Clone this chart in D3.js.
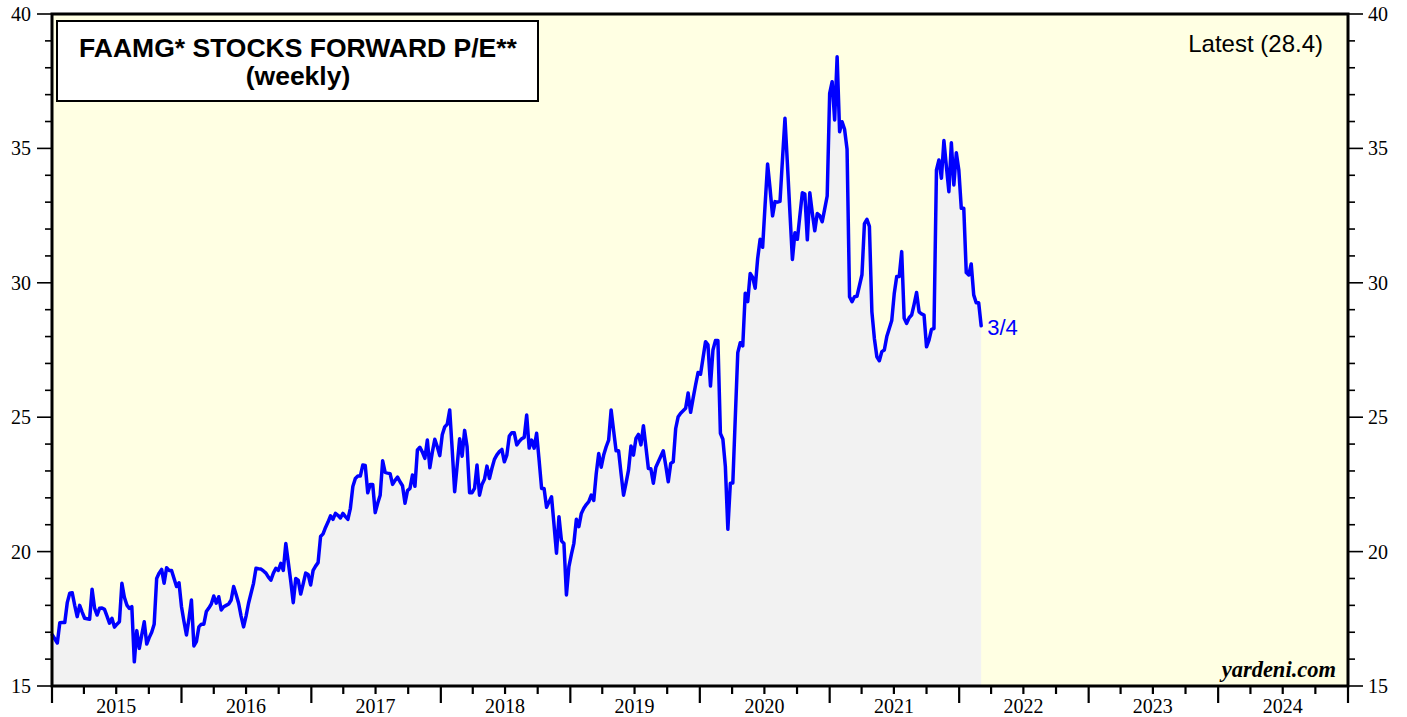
<!DOCTYPE html>
<html>
<head>
<meta charset="utf-8">
<script src="https://cdn.jsdelivr.net/npm/d3@7"></script>
<style>
  html, body { margin: 0; padding: 0; background: #ffffff; }
  svg { display: block; }
</style>
</head>
<body>
<svg id="chart" width="1407" height="717"></svg>
<script>
// FAAMG forward P/E, weekly, first week of 2015 through 3/4/2022
const seriesStart = "2015-01-02";
const peValues = [
  16.9, 16.75, 16.6, 17.35, 17.36, 17.36, 18.1, 18.45, 18.47, 18.0,
  17.58, 18.0, 17.75, 17.52, 17.5, 17.48, 18.6, 17.9, 17.64, 17.89,
  17.9, 17.85, 17.6, 17.34, 17.52, 17.19, 17.3, 17.39, 18.82, 18.3,
  18.01, 17.89, 17.95, 15.9, 17.06, 16.4, 16.9, 17.39, 16.56, 16.8,
  17.0, 17.3, 19.0, 19.2, 19.34, 18.82, 19.4, 19.3, 19.3, 19.0,
  18.7, 18.84, 17.95, 17.4, 16.9, 17.5, 18.2, 16.49, 16.65, 17.2,
  17.3, 17.3, 17.77, 17.9, 18.05, 18.35, 18.08, 18.32, 17.83, 17.95,
  18.0, 18.05, 18.2, 18.7, 18.4, 18.08, 17.6, 17.2, 17.6, 18.08,
  18.45, 18.82, 19.38, 19.36, 19.35, 19.28, 19.2, 19.05, 18.94, 19.2,
  19.38, 19.3, 19.56, 19.3, 20.3, 19.6, 18.9, 18.1, 19.0, 18.94,
  18.42, 18.8, 19.2, 19.15, 18.76, 19.3, 19.46, 19.59, 20.56, 20.66,
  20.9, 21.1, 21.33, 21.2, 21.42, 21.35, 21.25, 21.42, 21.3, 21.2,
  21.61, 22.42, 22.72, 22.81, 22.81, 23.22, 23.2, 22.19, 22.5, 22.5,
  21.45, 21.8, 22.1, 23.38, 22.95, 22.92, 22.9, 22.5, 22.65, 22.77,
  22.6, 22.45, 21.8, 22.27, 22.35, 22.85, 22.43, 23.78, 23.88, 23.7,
  23.47, 24.15, 23.12, 23.7, 24.18, 23.9, 23.57, 24.35, 24.64, 24.74,
  25.27, 23.8, 22.23, 23.2, 24.2, 23.55, 24.51, 23.9, 22.19, 22.19,
  22.35, 23.22, 22.1, 22.5, 22.69, 23.18, 22.72, 23.1, 23.43, 23.6,
  23.72, 23.8, 23.34, 23.59, 24.3, 24.42, 24.42, 23.97, 24.1, 24.2,
  24.25, 25.08, 23.85, 24.15, 23.85, 24.4, 23.4, 22.35, 22.35, 21.65,
  21.85, 22.04, 21.0, 19.94, 21.3, 20.4, 20.3, 18.39, 19.44, 19.9,
  20.31, 21.2, 20.93, 21.42, 21.61, 21.75, 21.86, 22.1, 21.9, 22.9,
  23.65, 23.14, 23.59, 23.9, 24.15, 25.27, 24.5, 23.75, 23.75, 22.9,
  22.1, 22.55, 23.03, 23.93, 23.59, 24.21, 24.36, 23.97, 24.68, 23.9,
  23.09, 23.08, 22.54, 23.14, 23.34, 23.55, 23.75, 23.2, 22.6, 23.28,
  23.34, 24.58, 25.02, 25.15, 25.24, 25.33, 25.9, 25.18, 25.7, 26.2,
  26.66, 26.6, 27.2, 27.81, 27.69, 26.16, 27.5, 27.85, 27.85, 24.4,
  24.18, 23.16, 20.83, 22.54, 22.55, 25.0, 27.4, 27.77, 27.65, 29.61,
  29.3, 30.35, 30.2, 29.8, 30.9, 31.62, 31.32, 32.9, 34.42, 33.5,
  32.49, 33.02, 33.0, 33.03, 34.6, 36.12, 34.4, 32.6, 30.87, 31.86,
  31.62, 32.5, 33.35, 33.3, 31.6, 33.35, 32.6, 31.94, 32.58, 32.5,
  32.27, 32.75, 33.23, 37.05, 37.48, 36.06, 38.41, 35.62, 35.99, 35.71,
  34.97, 29.48, 29.3, 29.48, 29.5, 29.9, 30.3, 32.2, 32.36, 32.1,
  28.92, 27.93, 27.25, 27.1, 27.44, 27.5, 28.0, 28.3, 28.6, 29.6,
  30.23, 30.23, 31.16, 28.68, 28.49, 28.7, 28.8, 29.2, 29.64, 28.92,
  28.84, 28.8, 27.62, 27.87, 28.27, 28.3, 34.2, 34.57, 33.89, 35.29,
  34.32, 33.39, 35.21, 33.64, 34.84, 34.2, 32.77, 32.77, 30.38, 30.29,
  30.7, 29.55, 29.26, 29.26, 28.4
];
const yearLabels = ["2015", "2016", "2017", "2018", "2019", "2020", "2021", "2022", "2023", "2024"];
const yMajorTicks = [15, 20, 25, 30, 35, 40];
const titleLines = ["FAAMG* STOCKS FORWARD P/E**", "(weekly)"];
const latestLabel = "Latest (28.4)";
const lastDateLabel = "3/4";
const sourceLabel = "yardeni.com";

const svg = d3.select("#chart");
const plot = { left: 52, right: 1348, top: 14, bottom: 686 };

const startDate = new Date(seriesStart + "T00:00:00Z");
const data = peValues.map((v, i) => ({ date: d3.utcDay.offset(startDate, 7 * i), value: v }));

const x = d3.scaleUtc()
  .domain([new Date(Date.UTC(2015, 0, 1)), new Date(Date.UTC(2025, 0, 1))])
  .range([plot.left, plot.right]);
const y = d3.scaleLinear().domain([15, 40]).range([plot.bottom, plot.top]);

// plot background
svg.append("rect")
  .attr("x", plot.left).attr("y", plot.top)
  .attr("width", plot.right - plot.left).attr("height", plot.bottom - plot.top)
  .attr("fill", "#ffffe3");

// shaded area under the series
svg.append("path")
  .datum(data)
  .attr("fill", "#f2f2f2")
  .attr("d", d3.area().x(d => x(d.date)).y0(y(15)).y1(d => y(d.value)));

// series line
svg.append("path")
  .datum(data)
  .attr("fill", "none")
  .attr("stroke", "#0000ff")
  .attr("stroke-width", 3.5)
  .attr("stroke-linejoin", "round")
  .attr("stroke-linecap", "round")
  .attr("d", d3.line().x(d => x(d.date)).y(d => y(d.value)));

// Y axes (left and right) with minor unit ticks
const yMinor = d3.range(15, 41, 1);
function yAxis(side) {
  const g = svg.append("g").attr("class", "y-" + side);
  const xEdge = side === "left" ? plot.left : plot.right;
  const dir = side === "left" ? -1 : 1;
  g.selectAll("line").data(yMinor).join("line")
    .attr("x1", xEdge).attr("x2", d => xEdge + dir * (yMajorTicks.includes(d) ? 15 : 7))
    .attr("y1", d => y(d)).attr("y2", d => y(d))
    .attr("stroke", "#000").attr("stroke-width", 1.6);
  g.selectAll("text").data(yMajorTicks).join("text")
    .attr("x", side === "left" ? xEdge - 21 : xEdge + 20)
    .attr("y", d => y(d))
    .attr("dy", "0.35em")
    .attr("text-anchor", side === "left" ? "end" : "start")
    .attr("font-family", "'Liberation Serif', 'Times New Roman', serif")
    .attr("font-size", 20)
    .attr("fill", "#000")
    .text(d => d);
}
yAxis("left");
yAxis("right");

// X axis: quarterly ticks, long ticks at year boundaries, labels mid-year
const quarters = d3.utcMonth.every(3).range(x.domain()[0], d3.utcDay.offset(x.domain()[1], 1));
const xg = svg.append("g");
xg.selectAll("line").data(quarters).join("line")
  .attr("x1", d => x(d)).attr("x2", d => x(d))
  .attr("y1", plot.bottom).attr("y2", d => plot.bottom + (d.getUTCMonth() === 0 ? 17 : 8))
  .attr("stroke", "#000").attr("stroke-width", 2.2);
xg.selectAll("text").data(yearLabels).join("text")
  .attr("x", d => x(new Date(Date.UTC(+d, 6, 1))))
  .attr("y", 713)
  .attr("text-anchor", "middle")
  .attr("font-family", "'Liberation Serif', 'Times New Roman', serif")
  .attr("font-size", 20)
  .attr("fill", "#000")
  .text(d => d);

// frame
svg.append("rect")
  .attr("x", plot.left).attr("y", plot.top)
  .attr("width", plot.right - plot.left).attr("height", plot.bottom - plot.top)
  .attr("fill", "none").attr("stroke", "#000").attr("stroke-width", 3);

// title box
svg.append("rect")
  .attr("x", 57).attr("y", 21).attr("width", 481).attr("height", 80)
  .attr("fill", "#fff").attr("stroke", "#000").attr("stroke-width", 2);
svg.append("text")
  .attr("x", 298).attr("y", 57)
  .attr("text-anchor", "middle")
  .attr("font-family", "'Liberation Sans', Arial, sans-serif")
  .attr("font-weight", "bold").attr("font-size", 26.5)
  .text(titleLines[0]);
svg.append("text")
  .attr("x", 298).attr("y", 85)
  .attr("text-anchor", "middle")
  .attr("font-family", "'Liberation Sans', Arial, sans-serif")
  .attr("font-weight", "bold").attr("font-size", 26.5)
  .text(titleLines[1]);

// latest value note
svg.append("text")
  .attr("x", 1323).attr("y", 52)
  .attr("text-anchor", "end")
  .attr("font-family", "'Liberation Sans', Arial, sans-serif")
  .attr("font-size", 24)
  .text(latestLabel);

// last date marker next to the final point
const last = data[data.length - 1];
svg.append("text")
  .attr("x", x(last.date) + 6).attr("y", y(last.value) + 9)
  .attr("font-family", "'Liberation Sans', Arial, sans-serif")
  .attr("font-size", 22)
  .attr("fill", "#0000ff")
  .text(lastDateLabel);

// source
svg.append("text")
  .attr("x", 1336).attr("y", 677)
  .attr("text-anchor", "end")
  .attr("font-family", "'Liberation Serif', 'Times New Roman', serif")
  .attr("font-weight", "bold").attr("font-style", "italic")
  .attr("font-size", 22.5)
  .text(sourceLabel);
</script>
</body>
</html>
